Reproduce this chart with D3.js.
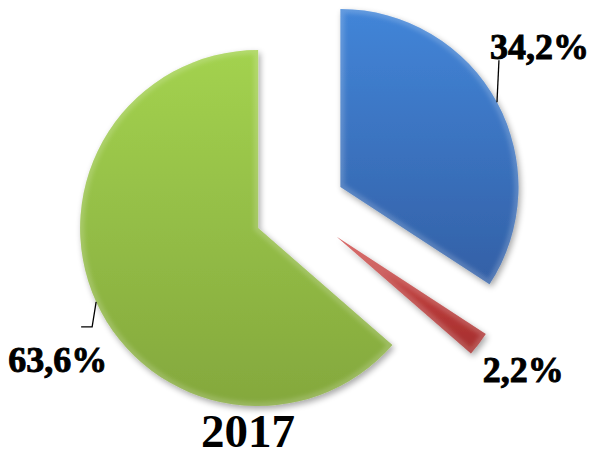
<!DOCTYPE html>
<html>
<head>
<meta charset="utf-8">
<script src="https://cdn.jsdelivr.net/npm/d3@7"></script>
<style>
  body { margin: 0; background: #fff; }
  svg { display: block; }
  text { font-family: "Liberation Serif", "Times New Roman", serif; font-weight: bold; fill: #000; }
</style>
</head>
<body>
<svg id="chart" width="592" height="456"></svg>
<script>
// data
var labels = ["34,2%", "2,2%", "63,6%"];
var values = [34.2, 2.2, 63.6];
var topColors = ["#4285d8", "#d04a48", "#a3d24f"];
var bottomColors = ["#3360a6", "#a52e2d", "#84a83d"];
var title = "2017";

var svg = d3.select("#chart"),
    width = +svg.attr("width"),
    height = +svg.attr("height");

var cx = 300, cy = 209,
    radius = 178,
    explode = 46;

var defs = svg.append("defs");

// drop shadow
var shadow = defs.append("filter").attr("id", "shadow")
    .attr("x", "-20%").attr("y", "-20%").attr("width", "140%").attr("height", "140%");
shadow.append("feGaussianBlur").attr("in", "SourceAlpha").attr("stdDeviation", 3);
shadow.append("feOffset").attr("dx", 2).attr("dy", 3).attr("result", "off");
shadow.append("feComponentTransfer").append("feFuncA").attr("type", "linear").attr("slope", 0.35);
var merge = shadow.append("feMerge");
merge.append("feMergeNode");
merge.append("feMergeNode").attr("in", "SourceGraphic");

var soft = defs.append("filter").attr("id", "soft");
soft.append("feGaussianBlur").attr("stdDeviation", 2);

var pie = d3.pie().sort(null).value(function(d) { return d; });
var arc = d3.arc().innerRadius(0).outerRadius(radius);
var arcs = pie(values);

arcs.forEach(function(d, i) {
    var g = defs.append("linearGradient").attr("id", "grad" + i)
        .attr("x1", 0).attr("y1", 0).attr("x2", 0).attr("y2", 1);
    g.append("stop").attr("offset", "0%").attr("stop-color", topColors[i]);
    g.append("stop").attr("offset", "100%").attr("stop-color", bottomColors[i]);
    defs.append("clipPath").attr("id", "clip" + i)
        .append("path").attr("d", arc(d));
});

function midAngle(d) { return (d.startAngle + d.endAngle) / 2; }
function offset(d, r) {
    var a = midAngle(d);
    return [Math.sin(a) * r, -Math.cos(a) * r];
}

var slices = svg.append("g")
    .attr("transform", "translate(" + cx + "," + cy + ")")
    .selectAll("g.slice")
    .data(arcs)
    .enter()
    .append("g")
    .attr("class", "slice")
    .attr("transform", function(d) {
        var o = offset(d, explode);
        return "translate(" + o[0] + "," + o[1] + ")";
    });

slices.append("path")
    .attr("d", arc)
    .attr("fill", function(d, i) { return "url(#grad" + i + ")"; })
    .attr("filter", "url(#shadow)");

// bevel: light rim inside the edge
slices.append("g")
    .attr("clip-path", function(d, i) { return "url(#clip" + i + ")"; })
    .append("path")
    .attr("d", arc)
    .attr("fill", "none")
    .attr("stroke", "#fff")
    .attr("stroke-opacity", 0.18)
    .attr("stroke-width", 8)
    .attr("filter", "url(#soft)");

// labels
var lab = svg.append("g")
    .attr("transform", "translate(" + cx + "," + cy + ")");

function edgePoint(d) {
    var o = offset(d, explode), e = offset(d, radius);
    return [o[0] + e[0], o[1] + e[1]];
}

function addLabel(x, y, txt, anchor) {
    lab.append("text")
        .attr("x", x).attr("y", y)
        .attr("text-anchor", anchor || "start")
        .attr("font-size", "36px")
        .attr("stroke", "#000")
        .attr("stroke-width", 0.9)
        .text(txt);
}

// blue: leader goes up
var pb = edgePoint(arcs[0]);
lab.append("path")
    .attr("d", d3.line()([[pb[0], pb[1]], [pb[0] + 2, pb[1] - 42]]))
    .attr("stroke", "#000").attr("stroke-width", 1.3).attr("fill", "none");
addLabel(pb[0] - 7, pb[1] - 43, labels[0]);

// red: label right below the tip
var pr = edgePoint(arcs[1]);
addLabel(pr[0] + 4, pr[1] + 38, labels[1]);

// green: elbow leader
var pg = edgePoint(arcs[2]);
lab.append("path")
    .attr("d", d3.line()([[pg[0], pg[1]], [pg[0] - 4, pg[1] + 25], [pg[0] - 15, pg[1] + 25]]))
    .attr("stroke", "#000").attr("stroke-width", 1.3).attr("fill", "none");
addLabel(pg[0] + 11, pg[1] + 70, labels[2], "end");

svg.append("text")
    .attr("x", 248).attr("y", 447)
    .attr("text-anchor", "middle")
    .attr("font-size", "47px")
    .text(title);
</script>
</body>
</html>
